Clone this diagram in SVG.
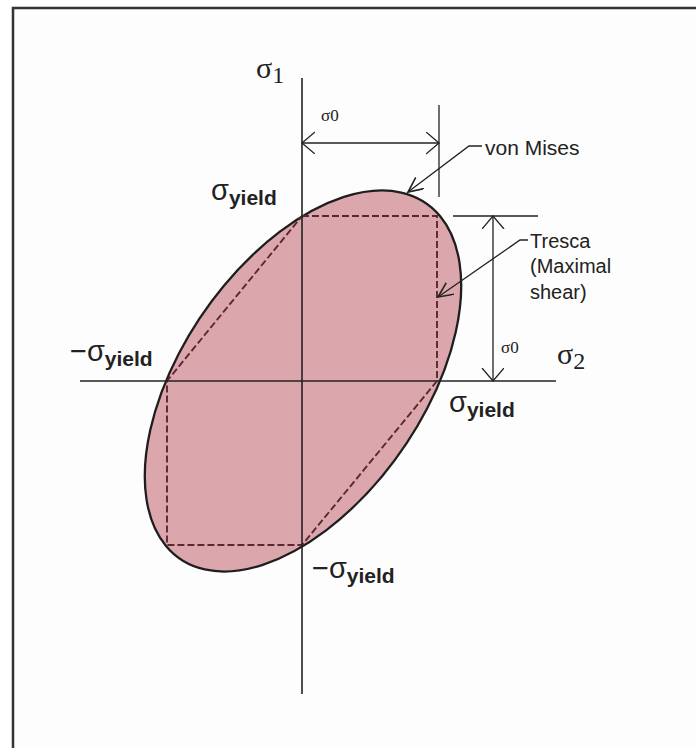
<svg xmlns="http://www.w3.org/2000/svg" width="696" height="748" viewBox="0 0 696 748">
<style>
.ax{stroke:#222;stroke-width:1.6;fill:none}
.dim{stroke:#222;stroke-width:1.3;fill:none}
.tr{stroke:#5a2830;stroke-width:1.9;stroke-dasharray:7 3;fill:none}
.lbl{font-family:"Liberation Sans",Arial,sans-serif;fill:#222}
.sig{font-family:"Liberation Sans",Arial,sans-serif;font-size:29px;fill:#222}
.sub{font-family:"Liberation Sans",Arial,sans-serif;font-size:21px;font-weight:bold;fill:#222}
.ser{font-family:"Liberation Serif","Times New Roman",serif;fill:#222}
</style>
<defs>
<marker id="dv" markerUnits="userSpaceOnUse" markerWidth="16" markerHeight="24" refX="13" refY="11" orient="auto-start-reverse">
<path d="M0,0 L13,11 L0,22" fill="none" stroke="#222" stroke-width="1.3"/>
</marker>
<marker id="lv" markerUnits="userSpaceOnUse" markerWidth="18" markerHeight="16" refX="15" refY="7" orient="auto">
<path d="M0,0 L15,7 L0,14" fill="none" stroke="#222" stroke-width="1.6"/>
</marker>
</defs>
<rect x="13" y="8" width="700" height="760" fill="#fdfdfd" stroke="#333" stroke-width="2.5"/>
<g id="vonMises">
<circle cx="0" cy="0" r="1" transform="matrix(137,-165,79.1,95.26,303,381)" fill="#dca6ad" stroke="#1e1e1e" stroke-width="2.3" vector-effect="non-scaling-stroke"/>
</g>
<g id="tresca">
<path class="tr" d="M302,216 L437,216 L437,381 L302,545 L167,545 L167,381 Z"/>
</g>
<g id="axes">
<line class="ax" x1="302" y1="78" x2="302" y2="694"/>
<line class="ax" x1="80" y1="381" x2="556" y2="381"/>
</g>
<g id="connectors">
<line class="dim" x1="439" y1="105" x2="439" y2="197"/>
<line class="dim" x1="302" y1="143" x2="439" y2="143" marker-start="url(#dv)" marker-end="url(#dv)"/>
<line class="dim" x1="453" y1="216" x2="538" y2="216"/>
<line class="dim" x1="493" y1="216" x2="493" y2="381" marker-start="url(#dv)" marker-end="url(#dv)"/>
<polyline class="dim" points="482,146 469,146 408,192" stroke-width="1.6" marker-end="url(#lv)"/>
<polyline class="dim" points="528,240 520,240 438,297" stroke-width="1.6" marker-end="url(#lv)"/>
</g>
<g id="labels">
<text class="ser" x="256" y="78" font-size="30">σ<tspan font-size="24" dy="5">1</tspan></text>
<text class="ser" x="557" y="364" font-size="30">σ<tspan font-size="24" dy="5">2</tspan></text>
<text class="ser" x="321" y="121" font-size="17">σ0</text>
<text class="ser" x="501" y="353" font-size="17">σ0</text>
<text class="lbl" x="485" y="155" font-size="21">von Mises</text>
<text class="lbl" x="530" y="248" font-size="20">Tresca</text>
<text class="lbl" x="530" y="273" font-size="20">(Maximal</text>
<text class="lbl" x="530" y="299" font-size="20">shear)</text>
<text class="sig" x="211" y="200">σ<tspan class="sub" dy="5">yield</tspan></text>
<text class="sig" x="449" y="412">σ<tspan class="sub" dy="5">yield</tspan></text>
<text class="sig" x="70" y="361">−σ<tspan class="sub" dy="5">yield</tspan></text>
<text class="sig" x="312" y="578">−σ<tspan class="sub" dy="5">yield</tspan></text>
</g>
</svg>
